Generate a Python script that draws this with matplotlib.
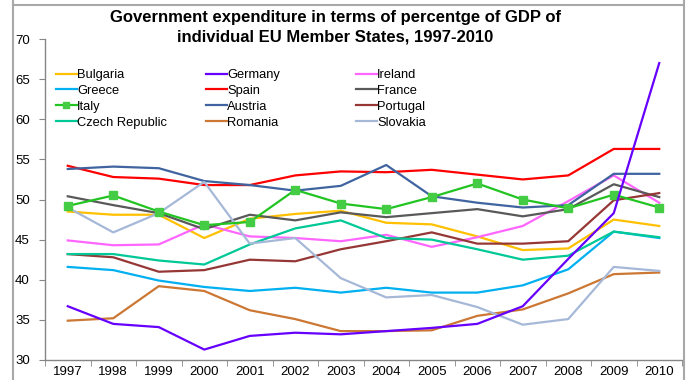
import matplotlib
matplotlib.use("Agg")
import matplotlib.pyplot as plt
from matplotlib.lines import Line2D

plt.rcParams['font.family'] = ['Liberation Sans', 'DejaVu Sans']

years = list(range(1997, 2011))
bulgaria = [48.5, 48.1, 48.1, 45.2, 47.6, 48.2, 48.6, 47.1, 46.9, 45.4, 43.7, 43.9, 47.5, 46.7]
germany = [36.7, 34.5, 34.1, 31.3, 33.0, 33.4, 33.2, 33.6, 34.0, 34.5, 36.7, 42.6, 48.3, 67.0]
ireland = [44.9, 44.3, 44.4, 46.9, 45.4, 45.2, 44.8, 45.6, 44.1, 45.3, 46.7, 49.8, 53.0, 49.6]
greece = [41.6, 41.2, 39.9, 39.1, 38.6, 39.0, 38.4, 39.0, 38.4, 38.4, 39.3, 41.3, 46.0, 45.2]
spain = [54.2, 52.8, 52.6, 51.8, 51.8, 53.0, 53.5, 53.4, 53.7, 53.1, 52.5, 53.0, 56.3, 56.3]
france = [50.4, 49.3, 48.3, 46.3, 48.1, 47.4, 48.4, 47.8, 48.3, 48.8, 47.9, 48.8, 51.9, 50.3]
italy = [49.2, 50.5, 48.5, 46.8, 47.2, 51.2, 49.5, 48.8, 50.3, 52.0, 50.0, 48.9, 50.6, 49.0]
austria = [53.8, 54.1, 53.9, 52.3, 51.8, 51.1, 51.7, 54.3, 50.4, 49.6, 49.0, 49.3, 53.2, 53.2]
portugal = [43.2, 42.8, 41.0, 41.2, 42.5, 42.3, 43.8, 44.8, 45.9, 44.5, 44.5, 44.8, 49.9, 50.8]
czech = [43.2, 43.2, 42.4, 41.9, 44.4, 46.4, 47.4, 45.2, 45.0, 43.8, 42.5, 43.0, 46.0, 45.3]
romania = [34.9, 35.2, 39.2, 38.6, 36.2, 35.1, 33.6, 33.6, 33.7, 35.5, 36.3, 38.3, 40.7, 40.9]
slovakia = [49.0, 45.9, 48.3, 52.2, 44.5, 45.2, 40.2, 37.8, 38.1, 36.6, 34.4, 35.1, 41.6, 41.1]

names = ["Bulgaria", "Germany", "Ireland", "Greece", "Spain", "France",
         "Italy", "Austria", "Portugal", "Czech Republic", "Romania", "Slovakia"]
series = [bulgaria, germany, ireland, greece, spain, france,
          italy, austria, portugal, czech, romania, slovakia]
colors = ["#FFC000", "#6600FF", "#FF66FF", "#00B0F0", "#FF0000", "#595959",
          "#22C422", "#3F64A0", "#953735", "#00C896", "#CC7733", "#A6B8D8"]

W, H = 688, 380
fig = plt.figure(figsize=(W / 100, H / 100), dpi=100)
ax = fig.add_axes([45 / W, 1 - 360 / H, (682 - 45) / W, (360 - 39) / H])

zorders = {"Germany": 5}
for name, vals, c in zip(names, series, colors):
    if name == "Italy":
        ax.plot(years, vals, color=c, lw=1.6, marker='s', ms=6,
                mfc="#44CC44", mec="#44CC44", zorder=4)
    else:
        ax.plot(years, vals, color=c, lw=1.6, zorder=zorders.get(name, 3))

ax.set_xlim(1996.5, 2010.5)
ax.set_ylim(30, 70)
ax.set_yticks(range(30, 71, 5))
ax.set_xticks(years)
ax.set_xticks([1996.5 + k for k in range(15)], minor=True)
ax.tick_params(axis='x', which='major', length=0, labelsize=9.5, pad=4, colors='black')
ax.tick_params(axis='x', which='minor', length=4, color='#868686', direction='out')
ax.tick_params(axis='y', length=4, color='#868686', labelsize=9.5, pad=7)
for s in ["top", "right"]:
    ax.spines[s].set_visible(False)
for s in ["left", "bottom"]:
    ax.spines[s].set_color('#868686')
    ax.spines[s].set_linewidth(1.0)

# legend: three columns placed at fixed positions (row-wise reading order)
columns = [["Bulgaria", "Greece", "Italy", "Czech Republic"],
           ["Germany", "Spain", "Austria", "Romania"],
           ["Ireland", "France", "Portugal", "Slovakia"]]
col_x = [56, 206, 356]
for xi, col in zip(col_x, columns):
    hs = []
    for n in col:
        c = colors[names.index(n)]
        if n == "Italy":
            hs.append(Line2D([], [], color=c, lw=1.6, marker='s', ms=5,
                             mfc="#44CC44", mec="#44CC44"))
        else:
            hs.append(Line2D([], [], color=c, lw=1.6))
    fig.legend(hs, col, loc='upper left',
               bbox_to_anchor=(xi / W, 1 - 69 / H), bbox_transform=fig.transFigure,
               frameon=False, fontsize=9.3, handlelength=1.6, handletextpad=0.05,
               labelspacing=0.3, borderaxespad=0, borderpad=0)

fig.text(335 / W, 1 - 27.5 / H,
         "Government expenditure in terms of percentge of GDP of\nindividual EU Member States, 1997-2010",
         ha='center', va='center', fontsize=12, fontweight='bold', linespacing=1.4)

# surrounding frame lines
frame_c = '#A8A8A8'
fig.add_artist(Line2D([13 / W, 684 / W], [1 - 5 / H, 1 - 5 / H], color=frame_c, lw=1.5, transform=fig.transFigure))
fig.add_artist(Line2D([13 / W, 13 / W], [0, 1], color=frame_c, lw=1.5, transform=fig.transFigure))
fig.add_artist(Line2D([684 / W, 684 / W], [0, 1], color=frame_c, lw=1.5, transform=fig.transFigure))

fig.savefig("out.png", dpi=100)
